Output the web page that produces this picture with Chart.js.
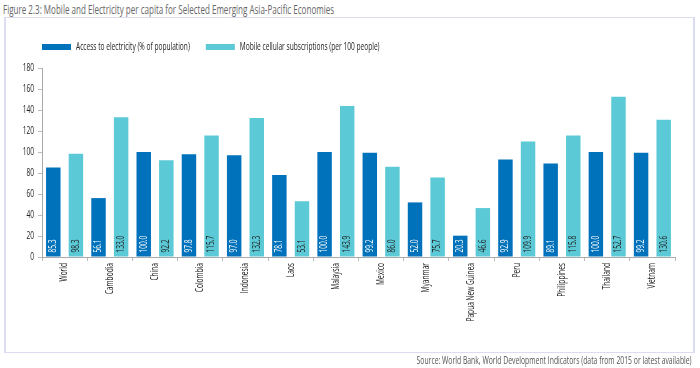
<!DOCTYPE html>
<html lang="en">
<head>
    <meta charset="UTF-8">
    <title>Mobile and Electricity per capita</title>
    <style>
        body {
            margin: 0;
            width: 700px;
            height: 368px;
            background: #fff;
            font-family: 'Open Sans', sans-serif;
            position: relative;
            overflow: hidden;
        }
        #title {
            position: absolute;
            left: 3px;
            top: 1px;
            font-size: 12px;
            color: #666;
            white-space: nowrap;
            transform: scaleX(0.67);
            transform-origin: left top;
        }
        #frame {
            position: absolute;
            left: 4px;
            top: 17px;
            width: 687px;
            height: 334px;
            border: 1px solid #dcdcf0;
            border-left-width: 2px;
            border-right-width: 2px;
        }
        #source {
            position: absolute;
            right: 8px;
            top: 352px;
            font-size: 11px;
            color: #555;
            white-space: nowrap;
            transform: scaleX(0.62);
            transform-origin: right top;
        }
        canvas {
            position: absolute;
            left: 0;
            top: 0;
        }
    </style>
</head>
<body>
    <div id="title">Figure 2.3: Mobile and Electricity per capita for Selected Emerging Asia-Pacific Economies</div>
    <div id="frame"></div>
    <canvas id="chart" width="700" height="368"></canvas>
    <div id="source">Source: World Bank, World Development Indicators (data from 2015 or latest available)</div>

    <script src="https://cdn.jsdelivr.net/npm/chart.js"></script>
    <script>
        const countries = ['World', 'Cambodia', 'China', 'Colombia', 'Indonesia', 'Laos', 'Malaysia',
            'Mexico', 'Myanmar', 'Papua New Guinea', 'Peru', 'Philippines', 'Thailand', 'Vietnam'];
        const electricity = [85.3, 56.1, 100.0, 97.8, 97.0, 78.1, 100.0, 99.2, 52.0, 20.3, 92.9, 89.1, 100.0, 99.2];
        const mobile = [98.3, 133.0, 92.2, 115.7, 132.3, 53.1, 143.9, 86.0, 75.7, 46.6, 109.9, 115.8, 152.7, 130.6];

        const FONT = "'Open Sans', sans-serif";
        const SQUEEZE = 0.66; // the original uses a condensed face

        // condense all canvas text horizontally (measure and draw)
        const canvas = document.getElementById('chart');
        const c2d = canvas.getContext('2d');
        const rawFill = c2d.fillText.bind(c2d);
        const rawMeasure = c2d.measureText.bind(c2d);
        c2d.fillText = function (text, x, y, maxWidth) {
            this.save();
            this.translate(x, y);
            this.scale(SQUEEZE, 1);
            if (maxWidth !== undefined) rawFill(text, 0, 0, maxWidth / SQUEEZE);
            else rawFill(text, 0, 0);
            this.restore();
        };
        c2d.measureText = function (text) {
            const m = rawMeasure(text);
            return {
                width: m.width * SQUEEZE,
                actualBoundingBoxAscent: m.actualBoundingBoxAscent,
                actualBoundingBoxDescent: m.actualBoundingBoxDescent,
                actualBoundingBoxLeft: m.actualBoundingBoxLeft * SQUEEZE,
                actualBoundingBoxRight: m.actualBoundingBoxRight * SQUEEZE
            };
        };

        // writes the values vertically at the foot of each bar
        const barValues = {
            id: 'barValues',
            afterDatasetsDraw(chart) {
                const ctx = chart.ctx;
                const colors = ['#ffffff', '#222222'];
                chart.data.datasets.forEach((ds, i) => {
                    const meta = chart.getDatasetMeta(i);
                    meta.data.forEach((bar, j) => {
                        ctx.save();
                        ctx.translate(bar.x, bar.base - 4);
                        ctx.rotate(-Math.PI / 2);
                        ctx.font = '10px ' + FONT;
                        ctx.fillStyle = colors[i];
                        ctx.textAlign = 'left';
                        ctx.textBaseline = 'middle';
                        ctx.fillText(ds.data[j].toFixed(1), 0, 0);
                        ctx.restore();
                    });
                });
            }
        };

        // line the legend up with the plot's left edge
        const legendShift = {
            id: 'legendShift',
            afterLayout(chart) {
                chart.legend.left = 26;
                chart.legend.top -= 6;
            }
        };

        new Chart(canvas, {
            type: 'bar',
            data: {
                labels: countries,
                datasets: [
                    {
                        label: 'Access to electricity (% of population)',
                        data: electricity,
                        backgroundColor: '#0071bb',
                        barPercentage: 0.64,
                        categoryPercentage: 1.0
                    },
                    {
                        label: 'Mobile cellular subscriptions (per 100 people)',
                        data: mobile,
                        backgroundColor: '#5bc9d6',
                        barPercentage: 0.64,
                        categoryPercentage: 1.0
                    }
                ]
            },
            options: {
                responsive: false,
                animation: false,
                layout: {
                    padding: { left: 14, right: 25, top: 32, bottom: 0 }
                },
                plugins: {
                    legend: {
                        align: 'start',
                        labels: {
                            boxWidth: 29,
                            boxHeight: 6,
                            padding: 16,
                            color: '#222',
                            font: { family: FONT, size: 10 }
                        }
                    },
                    tooltip: { enabled: false }
                },
                scales: {
                    x: {
                        grid: {
                            drawOnChartArea: false,
                            tickLength: 4,
                            color: '#bbb'
                        },
                        border: { color: '#aaa' },
                        ticks: {
                            minRotation: 90,
                            maxRotation: 90,
                            padding: 2,
                            color: '#222',
                            font: { family: FONT, size: 10 }
                        },
                        afterFit(scale) { scale.height = 111; }
                    },
                    y: {
                        min: 0,
                        max: 180,
                        grid: {
                            drawOnChartArea: false,
                            tickLength: 4,
                            color: '#bbb'
                        },
                        border: { color: '#aaa' },
                        ticks: {
                            stepSize: 20,
                            color: '#222',
                            padding: 4,
                            font: { family: FONT, size: 10 }
                        },
                        afterFit(scale) { scale.width = 28; }
                    }
                }
            },
            plugins: [barValues, legendShift]
        });
    </script>
</body>
</html>
